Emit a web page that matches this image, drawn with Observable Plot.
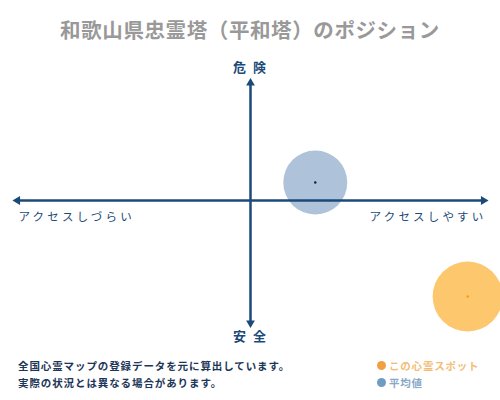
<!DOCTYPE html>
<html>
<head>
<meta charset="utf-8">
<script src="https://cdn.jsdelivr.net/npm/d3@7"></script>
<script src="https://cdn.jsdelivr.net/npm/@observablehq/plot@0.6"></script>
<style>
  html, body { margin: 0; padding: 0; background: #fff; width: 500px; height: 400px; overflow: hidden; }
  body { font-family: "Noto Sans CJK JP", "Noto Sans", sans-serif; }
  #title { height: 50px; text-align: center; font-size: 20.5px; font-weight: 700; color: #999999; line-height: 58px; letter-spacing: 0.6px; }
  #chart { height: 300px; }
  #footer { position: relative; height: 50px; }
  .note { position: absolute; left: 18px; font-size: 10.5px; font-weight: 700; color: #1d3657; letter-spacing: 0.9px; white-space: nowrap; }
  .leg { position: absolute; left: 377px; font-size: 10.5px; font-weight: 700; letter-spacing: 0.8px; white-space: nowrap; display: flex; align-items: center; }
  .sw { display: inline-block; width: 9px; height: 9px; border-radius: 50%; margin-right: 3px; }
</style>
</head>
<body>
<div id="title"></div>
<div id="chart"></div>
<div id="footer"></div>
<script>
// ---- data ----
const title = "和歌山県忠霊塔（平和塔）のポジション";
const labelTop = "危 険";
const labelBottom = "安 全";
const labelLeft = "アクセスしづらい";
const labelRight = "アクセスしやすい";
const notes = ["全国心霊マップの登録データを元に算出しています。", "実際の状況とは異なる場合があります。"];
const legendNames = ["この心霊スポット", "平均値"];
const legendColors = ["#f0a040", "#709cc4"];
const legendTextColors = ["#f2bd78", "#8aa8c8"];

// axis extents (data units)
const xAxisExtent = [-5, 5];
const yAxisExtent = [-4.9, 4.7];

// points
const pointNames = ["平均値", "この心霊スポット"];
const pointX = [1.39, 4.66];
const pointY = [0.72, -3.84];
const pointFill = ["#aec3da", "#fdc76e"];
const pointCenter = ["#1a1a1a", "#f0a000"];
const pointR = [32, 35];

const points = pointNames.map((n, i) => ({name: n, x: pointX[i], y: pointY[i], fill: pointFill[i], c: pointCenter[i], r: pointR[i]}));

const navy = "#1c4a78";

const heads = [
  {x: xAxisExtent[0], y: 0, rot: -90},
  {x: xAxisExtent[1], y: 0, rot: 90},
  {x: 0, y: yAxisExtent[1], rot: 0},
  {x: 0, y: yAxisExtent[0], rot: 180}
];

document.getElementById("title").textContent = title;

const plot = Plot.plot({
  width: 500,
  height: 300,
  marginLeft: 17,
  marginRight: 17,
  marginTop: 25,
  marginBottom: 25,
  x: {domain: [-5, 5], axis: null},
  y: {domain: [-5, 5], axis: null},
  r: {type: "identity"},
  style: {fontFamily: "'Noto Sans CJK JP', sans-serif", background: "transparent"},
  marks: [
    Plot.dot(points, {x: "x", y: "y", r: "r", fill: "fill", stroke: "none"}),
    Plot.link([{x1: xAxisExtent[0], x2: xAxisExtent[1], y1: 0, y2: 0}, {x1: 0, x2: 0, y1: yAxisExtent[0], y2: yAxisExtent[1]}],
      {x1: "x1", x2: "x2", y1: "y1", y2: "y2", stroke: navy, strokeWidth: 2.5}),
    Plot.dot(heads, {x: "x", y: "y", symbol: "triangle2", rotate: "rot", fill: navy, r: 4.2}),
    Plot.dot(points, {x: "x", y: "y", r: 1.2, fill: "c"}),
    Plot.text([{x: 0, y: yAxisExtent[1], t: labelTop}], {x: "x", y: "y", text: "t", dy: -15, fill: navy, fontSize: 13, fontWeight: 700}),
    Plot.text([{x: 0, y: yAxisExtent[0], t: labelBottom}], {x: "x", y: "y", text: "t", dy: 14, fill: navy, fontSize: 13, fontWeight: 700}),
    Plot.text([{x: xAxisExtent[0], y: 0, t: labelLeft}], {x: "x", y: "y", text: "t", dy: 17, dx: 1, textAnchor: "start", fill: navy, fontSize: 11.5, fontWeight: 400}),
    Plot.text([{x: xAxisExtent[1], y: 0, t: labelRight}], {x: "x", y: "y", text: "t", dy: 17, dx: 3, textAnchor: "end", fill: navy, fontSize: 11.5, fontWeight: 400})
  ]
});
plot.style.overflow = "visible";
d3.select(plot).selectAll("text").style("letter-spacing", function() {
  const t = this.textContent;
  return (t === labelLeft || t === labelRight) ? "3.2px" : "2px";
});
document.getElementById("chart").appendChild(plot);

const footer = document.getElementById("footer");
notes.forEach((n, i) => {
  const d = document.createElement("div");
  d.className = "note";
  d.style.top = (8 + i * 17) + "px";
  d.textContent = n;
  footer.appendChild(d);
});
legendNames.forEach((n, i) => {
  const d = document.createElement("div");
  d.className = "leg";
  d.style.top = (8 + i * 17) + "px";
  d.style.color = legendTextColors[i];
  const s = document.createElement("span");
  s.className = "sw";
  s.style.background = legendColors[i];
  d.appendChild(s);
  d.appendChild(document.createTextNode(n));
  footer.appendChild(d);
});
</script>
</body>
</html>
